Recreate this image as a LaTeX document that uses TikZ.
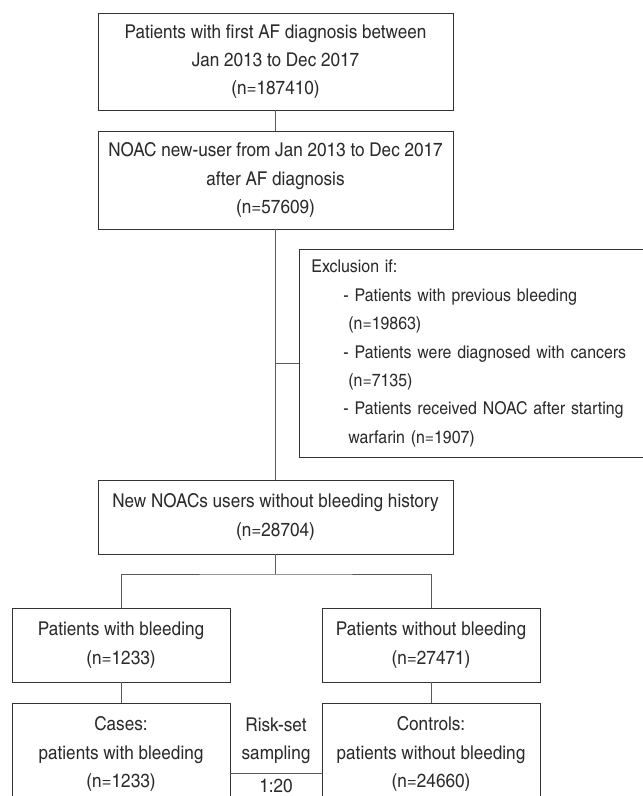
\documentclass[tikz,border=0pt]{standalone}
\usepackage{fontspec}
\setmainfont{texgyreheroscn-regular.otf}[FakeStretch=1.1]

\definecolor{boxgray}{HTML}{333333}
\definecolor{linkgray}{HTML}{5A5A5A}
\definecolor{txtgray}{HTML}{2B2B2B}

\tikzset{
  box/.style={draw=boxgray, line width=0.9pt, align=center, inner sep=3pt, text=txtgray, font=\fontsize{19}{28.4}\selectfont},
  plain/.style={align=center, inner sep=1pt, text=txtgray, font=\fontsize{19}{28.4}\selectfont},
  link/.style={draw=linkgray, line width=0.9pt},
}

\begin{document}
\begin{tikzpicture}[x=1pt, y=-1pt]
\useasboundingbox (0,0) rectangle (643,796);

\node (first) at (275.5,61.5) [box, minimum width=355pt, minimum height=97pt] {Patients with first AF diagnosis between\\Jan 2013 to Dec 2017\\(n=187410)};
\node (noac) at (275.5,180) [box, minimum width=355pt, minimum height=98pt] {NOAC new-user from Jan 2013 to Dec 2017\\after AF diagnosis\\(n=57609)};

% exclusion box, runs off the right edge
\node (excl) at (299,353.5) [box, anchor=west, align=left, text width=337pt, inner xsep=12pt, minimum height=208pt, font=\fontsize{17.6}{28.4}\selectfont] {Exclusion if:\\
\hspace*{32pt}- Patients with previous bleeding\\
\hspace*{37pt}(n=19863)\\
\hspace*{32pt}- Patients were diagnosed with cancers\\
\hspace*{37pt}(n=7135)\\
\hspace*{32pt}- Patients received NOAC after starting\\
\hspace*{37pt}warfarin (n=1907)};

\node (users) at (275.5,517) [box, minimum width=355pt, minimum height=74pt] {New NOACs users without bleeding history\\(n=28704)};

\node (bleed) at (121,645) [box, minimum width=218pt, minimum height=74pt] {Patients with bleeding\\(n=1233)};
\node (nobleed) at (431,645) [box, minimum width=218pt, minimum height=74pt] {Patients without bleeding\\(n=27471)};

\node (cases) at (121,754) [box, minimum width=218pt, minimum height=102pt] {Cases:\\patients with bleeding\\(n=1233)};
\node (controls) at (431,754) [box, minimum width=218pt, minimum height=102pt] {Controls:\\patients without bleeding\\(n=24660)};

\node (sampling) at (276,741) [plain] {Risk-set\\sampling};
\node (ratio) at (276,786) [plain] {1:20};

\coordinate (join) at (275.5,363);
\coordinate (split) at (275.5,574);
\coordinate (risk) at (276,773);

\draw [link] (first) -- (noac);
\draw [link] (noac) -- (users);
\draw [link] (join) -- (join -| excl.west);
\draw [link] (users) -- (split);
\draw [link] (bleed.north) |- (split) -| (nobleed.north);
\draw [link] (bleed) -- (cases);
\draw [link] (nobleed) -- (controls);
\draw [link] (risk -| cases.east) -- (risk -| controls.west);

\end{tikzpicture}
\end{document}
